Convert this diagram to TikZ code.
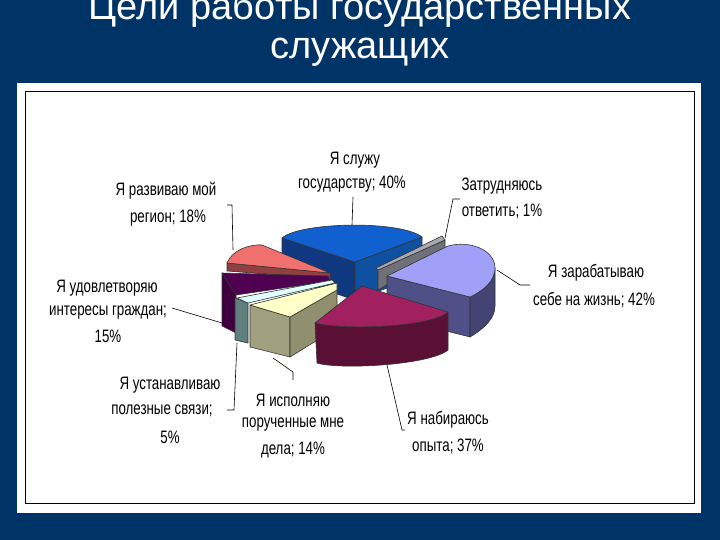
\documentclass[tikz,border=0pt]{standalone}
\usepackage{fontspec}
\setmainfont{Liberation Sans}
\definecolor{bg}{RGB}{0,51,102}
\definecolor{bluetop}{HTML}{1060D0}\definecolor{bluefr}{HTML}{103880}\definecolor{bluert}{HTML}{1050A0}
\definecolor{graytop}{HTML}{A8A8B0}\definecolor{graywall}{HTML}{707078}
\definecolor{lptop}{HTML}{A0A0F8}\definecolor{lpwall}{HTML}{505088}
\definecolor{martop}{HTML}{A02060}\definecolor{marwall}{HTML}{5A1035}
\definecolor{khtop}{HTML}{FFFFC8}\definecolor{khwall}{HTML}{A0A080}\definecolor{khwall2}{HTML}{909070}
\definecolor{cytop}{HTML}{E0FFFF}\definecolor{cywall}{HTML}{608080}
\definecolor{putop}{HTML}{500050}\definecolor{puwall}{HTML}{400040}
\definecolor{pktop}{HTML}{F07070}\definecolor{pkwall}{HTML}{904040}
\tikzset{face/.style={draw=black!80,line width=0.6pt,line join=round},
lbl/.style={font=\fontsize{18}{18}\selectfont,xscale=0.74,inner sep=0pt,anchor=center},
lead/.style={draw=black,line width=0.6pt},
ttl/.style={font=\fontsize{38}{38}\selectfont,text=white,inner sep=0pt}}
\begin{document}
\begin{tikzpicture}[x=1pt,y=-1pt]
\useasboundingbox (0,0) rectangle (720,540);
\fill[bg] (0,0) rectangle (720,540);
\node[ttl] (t1) at (360,10) {Цели работы государственных};
\node[ttl] (t2) at (360,52) {служащих};
\fill[white] (17,83) rectangle (701,513);
\draw[line width=0.9pt] (25,91) rectangle (694,503);
% blue
\path[face,fill=bluefr] (282,238)--(355,262)--(355,300)--(282,276)--cycle;
\path[face,fill=bluert] (355,262)--(422,237)--(422,275)--(355,300)--cycle;
\path[face,fill=bluetop] (282,238) .. controls (300,222) and (400,220) .. (422,237) -- (355,262) -- cycle;
% gray
\path[face,fill=graywall] (378,270)--(445,240)--(445,250)--(378,290)--cycle;
\path[face,fill=graytop] (376,268)--(442,236)--(445,240)--(378,270)--cycle;
% light purple
\path[face,fill=lpwall] (387,276)--(470,297)--(470,337)--(387,316)--cycle;
\path[face,fill=lpwall!85!black] (470,297) .. controls (485,290) and (495,280) .. (495,268) -- (495,306) .. controls (495,318) and (485,328) .. (470,337) -- cycle;
\path[face,fill=lptop] (387,276)--(448,246) .. controls (470,240) and (495,250) .. (495,268) .. controls (495,280) and (485,290) .. (470,297) -- cycle;
% pink
\path[face,fill=pkwall] (227,263)--(330,273)--(330,279)--(227,271)--cycle;
\path[face,fill=pktop] (227,263) .. controls (232,250) and (250,244) .. (262,245) -- (330,273) -- cycle;
% purple
\path[face,fill=puwall] (222,273)--(236,295)--(236,333)--(222,326)--cycle;
\path[face,fill=putop] (222,273)--(328,276)--(330,281)--(236,295)--cycle;
% cyan
\path[face,fill=cywall] (235,298)--(248,303)--(248,343)--(235,340)--cycle;
\path[face,fill=cytop] (237,298)--(332,280)--(335,283)--(248,303)--cycle;
% khaki
\path[face,fill=khwall] (250,305)--(290,317)--(290,357)--(250,347)--cycle;
\path[face,fill=khwall2] (290,317)--(337,290)--(337,328)--(290,357)--cycle;
\path[face,fill=khtop] (250,305)--(337,283)--(337,290)--(290,317)--cycle;
% maroon
\path[face,fill=marwall] (448,312) .. controls (430,328) and (340,330) .. (315,323) -- (317,363) .. controls (340,370) and (430,365) .. (448,350) -- cycle;
\path[face,fill=martop] (362,286) -- (448,312) .. controls (430,328) and (340,330) .. (315,323) -- cycle;
% labels
\node[lbl] (l1a) at (355,160) {Я служу};
\node[lbl] (l1b) at (352,184) {государству; 40\%};
\node[lbl] (l2a) at (502,186) {Затрудняюсь};
\node[lbl] (l2b) at (502,211) {ответить; 1\%};
\node[lbl] (l3a) at (596,273) {Я зарабатываю};
\node[lbl] (l3b) at (594,300) {себе на жизнь; 42\%};
\node[lbl] (l4a) at (166,191) {Я развиваю мой};
\node[lbl] (l4b) at (168,218) {регион; 18\%};
\node[lbl] (l5a) at (107,288) {Я удовлетворяю};
\node[lbl] (l5b) at (108,313) {интересы граждан;};
\node[lbl] (l5c) at (108,336) {15\%};
\node[lbl] (l6a) at (170,385) {Я устанавливаю};
\node[lbl] (l6b) at (162,411) {полезные связи;};
\node[lbl] (l6c) at (170,437) {5\%};
\node[lbl] (l7a) at (293,400) {Я исполняю};
\node[lbl] (l7b) at (293,425) {порученные мне};
\node[lbl] (l7c) at (293,450) {дела; 14\%};
\node[lbl] (l8a) at (448,420) {Я набираюсь};
\node[lbl] (l8b) at (448,446) {опыта; 37\%};
% leaders
\coordinate (e1) at (352,225);\draw[lead] (353,197) -- (e1);
\coordinate (e2) at (445,238);\draw[lead] (460,199) -- (453,199) -- (e2);
\coordinate (e3) at (497,270);\draw[lead] (530,285) -- (520,285) -- (e3);
\coordinate (e4) at (233,250);\draw[lead] (227,205) -- (232,205) -- (e4);
\coordinate (e5) at (222,323);\draw[lead] (172,308) -- (e5);
\coordinate (e6) at (237,343);\draw[lead] (227,410) -- (234,410) -- (e6);
\coordinate (e7) at (273,358);\draw[lead] (293,380) -- (293,372) -- (e7);
\coordinate (e8) at (387,365);\draw[lead] (405,430) -- (402,430) -- (e8);
\end{tikzpicture}
\end{document}
